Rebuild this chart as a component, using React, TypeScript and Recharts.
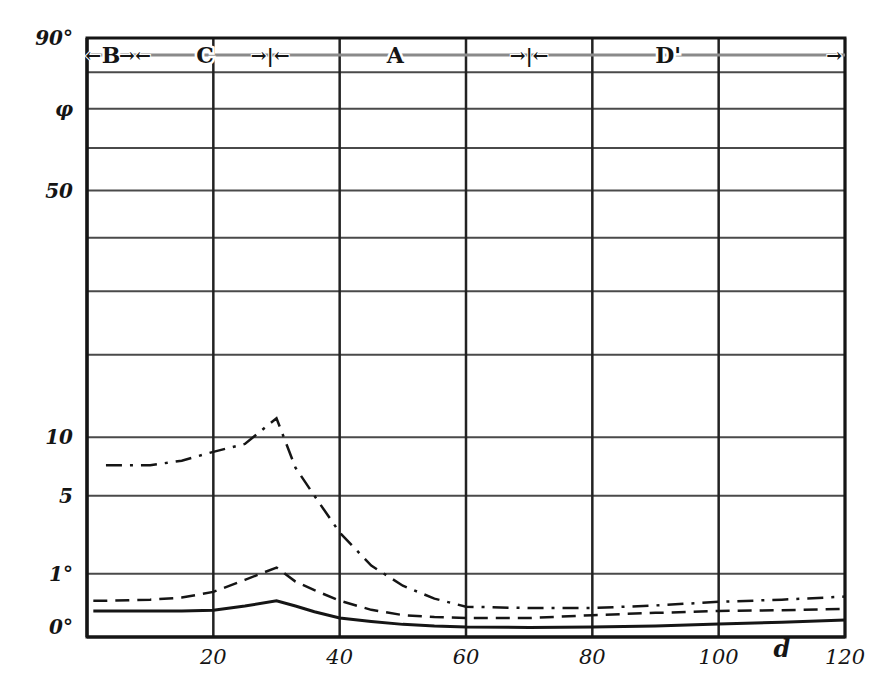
import {
  LineChart,
  Line,
  XAxis,
  YAxis,
  CartesianGrid,
  ReferenceLine,
  ReferenceArea,
  ReferenceDot,
} from 'recharts';

// distance d along the x axis, angle φ (degrees) on a square-root y axis
const distance = [1, 3, 10, 15, 20, 25, 30, 33, 36, 40, 45, 50, 55, 60, 70, 80, 90, 100, 110, 120];
const upperCurve = [null, 7.4, 7.4, 7.8, 8.6, 9.35, 12.0, 7.2, 5.0, 2.74, 1.28, 0.66, 0.37, 0.23, 0.21, 0.21, 0.25, 0.31, 0.35, 0.41];
const middleCurve = [0.33, 0.33, 0.35, 0.39, 0.51, 0.82, 1.21, 0.77, 0.55, 0.33, 0.185, 0.12, 0.1, 0.09, 0.09, 0.12, 0.146, 0.17, 0.18, 0.2];
const lowerCurve = [0.17, 0.17, 0.17, 0.17, 0.18, 0.24, 0.33, 0.24, 0.16, 0.09, 0.06, 0.04, 0.03, 0.025, 0.023, 0.025, 0.03, 0.043, 0.055, 0.073];

const distanceTicks = [0, 20, 40, 60, 80, 100, 120];
const angleTicks = [0, 1, 5, 10, 20, 30, 40, 50, 60, 70, 80, 90];
const angleLabelValues = [0, 1, 5, 10, 50, 70, 90];
const angleLabelTexts = ['0°', '1°', '5', '10', '50', 'φ', '90°'];

const zoneMarks = ['←', 'B', '→←', 'C', '→|←', 'A', '→|←', "D'", '→'];
const zoneMarkAt = [1, 3.8, 7.6, 18.7, 29, 48.8, 70, 92, 118.3];
const zoneNames = ['B', 'C', 'A', "D'"];
const zoneLineAngle = 85;
const axisLetter = 'd';
const axisLetterAt = 110;

const chartData = distance.map((d, i) => ({
  d,
  upper: upperCurve[i],
  middle: middleCurve[i],
  lower: lowerCurve[i],
}));

const FONT = '"DejaVu Serif", serif';
const INK = '#151515';

function AngleTick(props: any) {
  const { x, y, payload } = props;
  const idx = angleLabelValues.indexOf(payload.value);
  if (idx < 0) return <g />;
  const shift = payload.value === 0 ? -10 : 0;
  return (
    <text
      x={x}
      y={y + shift}
      dy="0.35em"
      textAnchor="end"
      fontFamily={FONT}
      fontStyle="italic"
      fontWeight="bold"
      fontSize={20}
      fill={INK}
    >
      {angleLabelTexts[idx]}
    </text>
  );
}

function DistanceTick(props: any) {
  const { x, y, payload } = props;
  if (payload.value === 0) return <g />;
  return (
    <text
      x={x}
      y={y}
      dy="0.71em"
      textAnchor="middle"
      fontFamily={FONT}
      fontStyle="italic"
      fontSize={21}
      fill={INK}
    >
      {payload.value}
    </text>
  );
}

function markShape(text: string) {
  const isName = zoneNames.includes(text);
  return (p: any) => (
    <text
      x={p.cx}
      y={p.cy}
      dy="0.35em"
      textAnchor="middle"
      fontFamily={FONT}
      fontWeight="bold"
      fontSize={isName ? 22 : 19}
      fill={INK}
      stroke="#fff"
      strokeWidth={isName ? 5 : 2}
      paintOrder="stroke"
    >
      {text}
    </text>
  );
}

export default function App() {
  return (
    <div style={{ position: 'absolute', left: 0, top: 0, width: 873, height: 673, background: '#fff' }}>
      <LineChart
        width={873}
        height={673}
        data={chartData}
        margin={{ top: 38, right: 28, bottom: 0, left: 0 }}
      >
        <CartesianGrid vertical={false} stroke="#4a4a4a" strokeWidth={2} />
        <CartesianGrid horizontal={false} stroke="#222" strokeWidth={2.5} />
        <XAxis
          dataKey="d"
          type="number"
          domain={[0, 120]}
          ticks={distanceTicks}
          height={36}
          tickLine={false}
          tickSize={0}
          tickMargin={12}
          axisLine={{ stroke: INK, strokeWidth: 3 }}
          tick={<DistanceTick />}
        />
        <YAxis
          type="number"
          scale="sqrt"
          domain={[0, 90]}
          ticks={angleTicks}
          width={87}
          tickLine={false}
          tickSize={0}
          tickMargin={14}
          axisLine={{ stroke: INK, strokeWidth: 3 }}
          tick={<AngleTick />}
        />
        <ReferenceArea x1={0} x2={120} y1={0} y2={90} fill="none" stroke={INK} strokeWidth={3} />
        <ReferenceLine y={zoneLineAngle} stroke="#8a8a8a" strokeWidth={3} />
        {zoneMarks.map((m, i) => (
          <ReferenceDot key={i} x={zoneMarkAt[i]} y={zoneLineAngle} r={0} shape={markShape(m)} />
        ))}
        <ReferenceDot
          x={axisLetterAt}
          y={0}
          r={0}
          ifOverflow="visible"
          shape={(p: any) => (
            <text x={p.cx} y={p.cy + 20} textAnchor="middle" fontFamily={FONT} fontStyle="italic" fontWeight="bold" fontSize={24} fill={INK}>
              {axisLetter}
            </text>
          )}
        />
        <Line
          type="linear"
          dataKey="upper"
          stroke={INK}
          strokeWidth={2.5}
          strokeDasharray="16 8 3 8"
          dot={false}
          isAnimationActive={false}
        />
        <Line
          type="linear"
          dataKey="middle"
          stroke={INK}
          strokeWidth={2.5}
          strokeDasharray="14 8"
          dot={false}
          isAnimationActive={false}
        />
        <Line
          type="linear"
          dataKey="lower"
          stroke={INK}
          strokeWidth={3}
          dot={false}
          isAnimationActive={false}
        />
      </LineChart>
    </div>
  );
}
